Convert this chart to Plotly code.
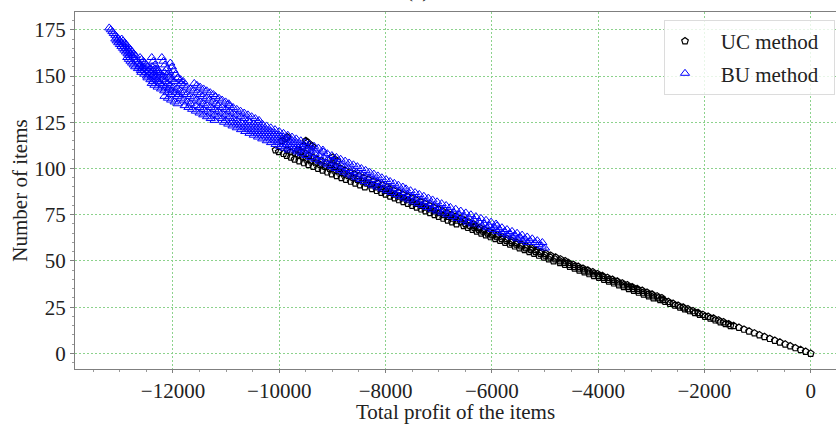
import plotly.graph_objects as go

# ---------------- data ----------------
# UC method: main line (items 0..110)
uc_main_items = [0, 1, 2, 3, 4, 5, 6, 7, 8, 9, 10, 11, 12, 13, 14, 15, 16, 17, 18, 19,
                 20, 21, 22, 23, 24, 25, 26, 27, 28, 29, 30, 31, 32, 33, 34, 35, 36, 37, 38, 39,
                 40, 41, 42, 43, 44, 45, 46, 47, 48, 49, 50, 51, 52, 53, 54, 55, 56, 57, 58, 59,
                 60, 61, 62, 63, 64, 65, 66, 67, 68, 69, 70, 71, 72, 73, 74, 75, 76, 77, 78, 79,
                 80, 81, 82, 83, 84, 85, 86, 87, 88, 89, 90, 91, 92, 93, 94, 95, 96, 97, 98, 99,
                 100, 101, 102, 103, 104, 105, 106, 107, 108, 109, 110]
uc_main_profit = [0, -95, -190, -290, -385, -480, -580, -675, -770, -870,
                  -965, -1060, -1160, -1255, -1350, -1450, -1545, -1640, -1735, -1830,
                  -1930, -2030, -2120, -2215, -2310, -2400, -2495, -2590, -2680, -2775,
                  -2870, -2960, -3055, -3150, -3240, -3335, -3430, -3520, -3615, -3710,
                  -3800, -3895, -3990, -4080, -4170, -4265, -4355, -4445, -4535, -4630,
                  -4720, -4810, -4900, -4995, -5085, -5175, -5265, -5360, -5450, -5540,
                  -5630, -5725, -5815, -5905, -5995, -6080, -6165, -6245, -6330, -6410,
                  -6495, -6580, -6660, -6745, -6830, -6910, -6995, -7080, -7160, -7245,
                  -7330, -7410, -7495, -7580, -7660, -7745, -7830, -7910, -7995, -8085,
                  -8170, -8260, -8350, -8435, -8525, -8610, -8700, -8790, -8875, -8965,
                  -9050, -9140, -9230, -9315, -9405, -9490, -9560, -9640, -9700, -9790, -9850]

# UC method: upper side of the band (items 15..110)
uc_upper_items = [15, 16, 17, 18, 19, 20, 21, 22, 23, 24, 25, 26, 27, 28, 29,
                  30, 31, 32, 33, 34, 35, 36, 37, 38, 39, 40, 41, 42, 43, 44, 45, 46, 47, 48, 49,
                  50, 51, 52, 53, 54, 55, 56, 57, 58, 59, 60, 61, 62, 63, 64, 65, 66, 67, 68, 69,
                  70, 71, 72, 73, 74, 75, 76, 77, 78, 79, 80, 81, 82, 83, 84, 85, 86, 87, 88, 89,
                  90, 91, 92, 93, 94, 95, 96, 97, 98, 99, 100, 101, 102, 103, 104, 105, 106, 107,
                  108, 109, 110]
uc_upper_profit = [-1510, -1605, -1700, -1795, -1890, -1990, -2090, -2180, -2275, -2370,
                   -2460, -2555, -2650, -2740, -2835,
                   -2960, -3050, -3145, -3240, -3330, -3425, -3520, -3610, -3705, -3800,
                   -3890, -3985, -4080, -4170, -4260, -4355, -4445, -4535, -4625, -4720,
                   -4840, -4930, -5020, -5115, -5205, -5295, -5385, -5480, -5570, -5660,
                   -5750, -5845, -5935, -6025, -6115, -6200, -6285, -6365, -6450, -6530,
                   -6665, -6750, -6830, -6915, -7000, -7080, -7165, -7250, -7330, -7415,
                   -7500, -7580, -7665, -7750, -7830, -7915, -8000, -8080, -8165, -8255,
                   -8390, -8480, -8570, -8655, -8745, -8830, -8920, -9010, -9095, -9185,
                   -9270, -9360, -9450, -9535, -9625, -9710, -9780, -9860, -9920, -10010, -10070]

# UC method: lower side of the band (items 30..110)
uc_lower_items = [30, 31, 32, 33, 34, 35, 36, 37, 38, 39, 40, 41, 42, 43, 44, 45, 46, 47, 48, 49,
                  50, 51, 52, 53, 54, 55, 56, 57, 58, 59, 60, 61, 62, 63, 64, 65, 66, 67, 68, 69,
                  70, 71, 72, 73, 74, 75, 76, 77, 78, 79, 80, 81, 82, 83, 84, 85, 86, 87, 88, 89,
                  90, 91, 92, 93, 94, 95, 96, 97, 98, 99, 100, 101, 102, 103, 104, 105, 106, 107,
                  108, 109, 110]
uc_lower_profit = [-2800, -2890, -2985, -3080, -3170, -3265, -3360, -3450, -3545, -3640,
                   -3730, -3825, -3920, -4010, -4100, -4195, -4285, -4375, -4465, -4560,
                   -4620, -4710, -4800, -4895, -4985, -5075, -5165, -5260, -5350, -5440,
                   -5530, -5625, -5715, -5805, -5895, -5980, -6065, -6145, -6230, -6310,
                   -6345, -6430, -6510, -6595, -6680, -6760, -6845, -6930, -7010, -7095,
                   -7180, -7260, -7345, -7430, -7510, -7595, -7680, -7760, -7845, -7935,
                   -7970, -8060, -8150, -8235, -8325, -8410, -8500, -8590, -8675, -8765,
                   -8850, -8940, -9030, -9115, -9205, -9290, -9360, -9440, -9500, -9590, -9650]

# UC method: scattered points above the band near -9000 .. -10000
uc_extra_items = [104, 105, 106, 112, 113, 114, 115, 112, 116, 117, 115]
uc_extra_profit = [-8910, -8960, -9000, -9380, -9420, -9470, -9500, -9550, -9890, -9850, -9950]

# BU method: centre of the band (items 57..176)
bu_mid_items = list(range(57, 177))
bu_mid_profit = [-5000, -5060, -5120, -5190, -5285, -5380, -5475, -5570, -5665, -5760,
                 -5855, -5950, -6045, -6140, -6235, -6330, -6425, -6520, -6615, -6710,
                 -6805, -6900, -7000, -7080, -7165, -7250, -7335, -7415, -7500, -7585,
                 -7665, -7750, -7835, -7915, -8000, -8075, -8155, -8230, -8310, -8385,
                 -8460, -8540, -8615, -8695, -8770, -8845, -8925, -9000, -9085, -9165,
                 -9250, -9335, -9415, -9500, -9585, -9665, -9750, -9835, -9915, -10000,
                 -10080, -10160, -10240, -10320, -10400, -10480, -10560, -10640, -10720, -10800,
                 -10870, -10940, -11010, -11080, -11150, -11220, -11290, -11360, -11430, -11490,
                 -11555, -11615, -11680, -11740, -11800, -11865, -11925, -11990, -12050, -12100,
                 -12155, -12205, -12260, -12310, -12360, -12415, -12465, -12520, -12570, -12620,
                 -12650, -12680, -12710, -12740, -12765, -12795, -12825, -12855, -12880, -12910,
                 -12940, -12970, -13000, -13025, -13055, -13085, -13115, -13140, -13170, -13200]

# BU method: outer edges of the band (items 60..170)
bu_edge_items = [60, 61, 62, 63, 64, 65, 66, 67, 68, 69, 70, 71, 72, 73, 74, 75, 76, 77, 78, 79,
                 80, 81, 82, 83, 84, 85, 86, 87, 88, 89, 90, 91, 92, 93, 94, 95, 96, 97, 98, 99,
                 100, 101, 102, 103, 104, 105, 106, 107, 108, 109, 110, 111, 112, 113, 114, 115,
                 116, 117, 118, 119, 120, 121, 122, 123, 124, 125, 126, 127, 128, 129, 130, 131,
                 132, 133, 134, 135, 136, 137, 138, 139, 140, 141, 142, 143, 144, 145, 146, 147,
                 148, 149, 150, 151, 152, 153, 154, 155, 156, 157, 158, 159, 160, 161, 162, 163,
                 164, 165, 166, 167, 168, 169, 170]
bu_left_profit = [-5330, -5425, -5520, -5615, -5710, -5805, -5900, -5995, -6090, -6185,
                  -6360, -6455, -6550, -6645, -6740, -6835, -6930, -7025, -7120, -7220,
                  -7300, -7385, -7470, -7555, -7635, -7720, -7805, -7885, -7970, -8055,
                  -8155, -8240, -8315, -8395, -8470, -8550, -8625, -8700, -8780, -8855,
                  -8935, -9010, -9085, -9165, -9240, -9325, -9405, -9490, -9575, -9655,
                  -9820, -9905, -9985, -10070, -10155, -10235, -10320, -10400, -10480, -10560,
                  -10640, -10720, -10800, -10880, -10960, -11040, -11220, -11290, -11360, -11430,
                  -11500, -11570, -11640, -11710, -11780, -11910, -11970, -12035, -12095, -12160,
                  -12040, -12100, -12165, -12225, -12290, -12350, -12400, -12375, -12425, -12480,
                  -12490, -12540, -12595, -12605, -12660, -12710, -12740, -12770, -12800, -12830,
                  -12860, -12825, -12855, -12885, -12915, -12940, -12970, -13000, -13030, -13060,
                  -13085]
bu_right_profit = [-5050, -5145, -5240, -5335, -5430, -5525, -5620, -5715, -5810, -5905,
                   -5920, -6015, -6110, -6205, -6300, -6395, -6490, -6585, -6680, -6780,
                   -6860, -6945, -7030, -7115, -7195, -7280, -7365, -7445, -7530, -7615,
                   -7675, -7760, -7835, -7915, -7990, -8070, -8145, -8220, -8300, -8375,
                   -8455, -8530, -8605, -8685, -8760, -8845, -8925, -9010, -9095, -9175,
                   -9180, -9265, -9345, -9430, -9515, -9595, -9680, -9760, -9840, -9920,
                   -10000, -10080, -10160, -10240, -10320, -10400, -10380, -10450, -10520, -10590,
                   -10660, -10730, -10800, -10870, -10940, -10950, -11010, -11075, -11135, -11200,
                   -11240, -11300, -11365, -11425, -11490, -11550, -11600, -11805, -11855, -11910,
                   -12060, -12110, -12165, -12285, -12340, -12390, -12500, -12530, -12560, -12590,
                   -12620, -12705, -12735, -12765, -12795, -12820, -12850, -12880, -12910, -12940,
                   -12965]

# BU method: inner spread of the wide part (items 110..155)
bu_inner_items = [110, 111, 112, 113, 114, 115, 116, 117, 118, 119, 120, 121, 122, 123, 124, 125,
                  126, 127, 128, 129, 130, 131, 132, 133, 134, 135, 136, 137, 138, 139, 140, 141,
                  142, 143, 144, 145, 146, 147, 148, 149, 150, 151, 152, 153, 154, 155]
bu_inner_left_profit = [-9660, -9745, -9825, -9910, -9995, -10075, -10160, -10240, -10320, -10400,
                        -10480, -10560, -10640, -10720, -10800, -10880, -11010, -11080, -11150,
                        -11220, -11290, -11360, -11430, -11500, -11570, -11670, -11730, -11795,
                        -11855, -11920, -11890, -11950, -12015, -12075, -12140, -12200, -12250,
                        -12265, -12315, -12370, -12400, -12450, -12505, -12535, -12590, -12640]
bu_inner_right_profit = [-9340, -9425, -9505, -9590, -9675, -9755, -9840, -9920, -10000, -10080,
                         -10160, -10240, -10320, -10400, -10480, -10560, -10590, -10660, -10730,
                         -10800, -10870, -10940, -11010, -11080, -11150, -11190, -11250, -11315,
                         -11375, -11440, -11490, -11550, -11615, -11675, -11740, -11800, -11850,
                         -11980, -12030, -12085, -12185, -12235, -12290, -12375, -12430, -12480]

# BU method: short streaks sticking out above the band near -12000
bu_spike_items = [160, 158, 156, 154, 152, 160, 158, 156, 154, 152, 157, 155, 153, 151, 149]
bu_spike_profit = [-12400, -12370, -12340, -12300, -12260, -12210, -12180, -12150, -12110,
                   -12070, -12050, -12020, -11990, -11950, -11910]

series_names = ["UC method", "BU method"]
x_tick_vals = [-12000, -10000, -8000, -6000, -4000, -2000, 0]
x_tick_text = ["\u221212000", "\u221210000", "\u22128000", "\u22126000", "\u22124000", "\u22122000", "0"]
y_tick_vals = [0, 25, 50, 75, 100, 125, 150, 175]
x_title = "Total profit of the items"
y_title = "Number of items"
panel_title = "(a)"

# ---------------- figure ----------------
uc_x = uc_main_profit + uc_upper_profit + uc_lower_profit + uc_extra_profit
uc_y = uc_main_items + uc_upper_items + uc_lower_items + uc_extra_items
bu_x = (bu_mid_profit + bu_left_profit + bu_right_profit + bu_inner_left_profit
        + bu_inner_right_profit + bu_spike_profit)
bu_y = (bu_mid_items + bu_edge_items + bu_edge_items + bu_inner_items
        + bu_inner_items + bu_spike_items)

FONT = "Liberation Serif"
NB = "\u00a0"

fig = go.Figure()
fig.add_trace(go.Scatter(
    x=uc_x, y=uc_y, mode="markers", name=NB * 3 + series_names[0] + NB * 2, legendgroup="uc",
    marker=dict(symbol="pentagon-open", size=7, color="black", line=dict(width=1.2, color="black")),
))
fig.add_trace(go.Scatter(
    x=bu_x, y=bu_y, mode="markers", name=NB * 3 + series_names[1] + NB * 2, legendgroup="bu",
    marker=dict(symbol="triangle-up-open", size=8, color="blue", line=dict(width=1, color="blue")),
))

grid = dict(showgrid=True, gridcolor="rgb(140,210,140)", gridwidth=1, griddash="2px,2px")

fig.update_layout(
    width=836, height=424,
    margin=dict(l=75, r=0, t=12, b=51),
    paper_bgcolor="white", plot_bgcolor="white",
    font=dict(family=FONT, size=21, color="#222222"),
    showlegend=True,
    legend=dict(
        x=0.9987, y=0.978, xanchor="right", yanchor="top",
        bgcolor="rgba(255,255,255,0.8)", bordercolor="#dcdcdc", borderwidth=1,
        font=dict(family=FONT, size=21, color="#222222"),
        tracegroupgap=2, itemwidth=30,
    ),
    xaxis=dict(
        range=[-13844, 476], zeroline=False,
        tickvals=x_tick_vals, ticktext=x_tick_text,
        ticks="outside", ticklen=3, tickcolor="#7f7f7f", tickwidth=1,
        minor=dict(dtick=500, tick0=0, ticks="outside", ticklen=2, tickcolor="#9a9a9a", showgrid=False),
        showline=True, linecolor="#7f7f7f", linewidth=1.3, mirror=True,
        title=dict(text=x_title, font=dict(family=FONT, size=21), standoff=6),
        tickfont=dict(family=FONT, size=21, color="#222222"),
        **grid,
    ),
    yaxis=dict(
        range=[-8.4, 184.6], zeroline=False,
        tickvals=y_tick_vals,
        ticks="outside", ticklen=4, tickcolor="#7f7f7f", tickwidth=1,
        minor=dict(dtick=5, tick0=0, ticks="outside", ticklen=2, tickcolor="#9a9a9a", showgrid=False),
        showline=True, linecolor="#7f7f7f", linewidth=1.3, mirror=False,
        title=dict(text=y_title, font=dict(family=FONT, size=21), standoff=0),
        tickfont=dict(family=FONT, size=21, color="#222222"),
        **grid,
    ),
    annotations=[dict(
        text=panel_title, xref="paper", yref="paper", x=0.4507, y=1.061,
        xanchor="center", yanchor="middle", showarrow=False,
        font=dict(family=FONT, size=21, color="#222222"),
    )],
)

fig.write_html("out.html")
